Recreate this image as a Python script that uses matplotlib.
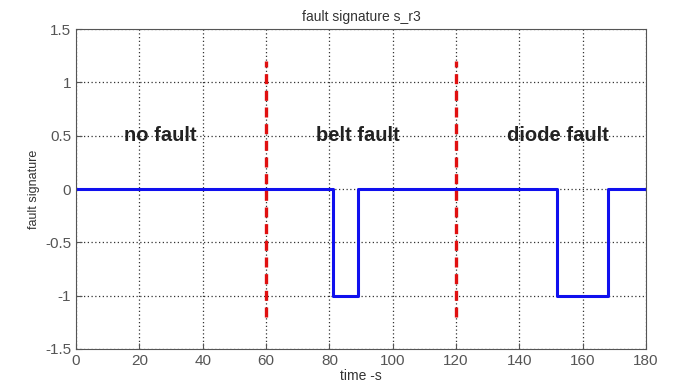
import numpy as np
import matplotlib.pyplot as plt

plt.rcParams['font.family'] = ['Liberation Sans', 'DejaVu Sans']

# fault signature step data (time in s, signal value)
time_pts = [0, 81, 81, 89, 89, 152, 152, 168, 168, 180]
signal = [0, 0, -1, -1, 0, 0, -1, -1, 0, 0]

# fault boundaries and region labels
boundaries = [60, 120]
region_labels = ["no fault", "belt fault", "diode fault"]
label_x = [26.6, 89, 152]
label_y = 0.5

fig = plt.figure(figsize=(6.73, 3.83), dpi=100)
ax = fig.add_axes([0.113, 0.089, 0.847, 0.835])

ax.plot(time_pts, signal, color='#1010ee', lw=2.2)
for b in boundaries:
    ax.plot([b, b], [-1.2, 1.2], color='#e01010', lw=2.4, ls=(0, (3, 2)))

for x, lab in zip(label_x, region_labels):
    ax.text(x, label_y, lab, fontsize=14.5, fontweight='bold', ha='center', va='center', color='#222222')

ax.set_xlim(0, 180)
ax.set_ylim(-1.5, 1.5)
ax.set_xticks(np.arange(0, 181, 20))
ax.set_yticks(np.arange(-1.5, 1.51, 0.5))
ax.set_yticklabels(['-1.5', '-1', '-0.5', '0', '0.5', '1', '1.5'])
ax.grid(True, color='#333333', ls=(0, (1, 2)), lw=0.9)
ax.tick_params(direction='in', labelsize=11, colors='#555555', labelcolor='#555555', length=4)
for s in ax.spines.values():
    s.set_color('#555555')

ax.set_title('fault signature s_r3', fontsize=10, color='#333333', pad=6)
ax.set_xlabel('time -s', fontsize=10, color='#333333', labelpad=1)
ax.set_ylabel('fault signature', fontsize=9, color='#333333', labelpad=4)

fig.savefig('out.png', dpi=100)
